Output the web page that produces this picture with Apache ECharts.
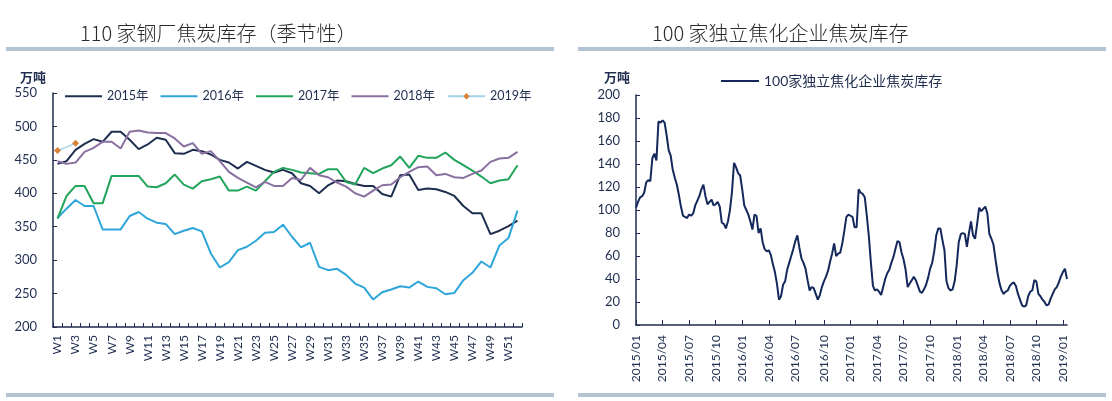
<!DOCTYPE html>
<html>
<head>
<meta charset="utf-8">
<script src="https://cdn.jsdelivr.net/npm/echarts@6/dist/echarts.min.js"></script>
<style>
html,body{margin:0;padding:0;background:#fff;}
#chart{width:1112px;height:401px;}
</style>
</head>
<body>
<div id="chart"></div>
<script>
// ---------- DATA ----------
const weeks = ['W1','W2','W3','W4','W5','W6','W7','W8','W9','W10','W11','W12','W13','W14','W15','W16','W17','W18','W19','W20','W21','W22','W23','W24','W25','W26','W27','W28','W29','W30','W31','W32','W33','W34','W35','W36','W37','W38','W39','W40','W41','W42','W43','W44','W45','W46','W47','W48','W49','W50','W51','W52'];
const seasonNames = ['2015年','2016年','2017年','2018年','2019年'];
const y2015 = [444,448,465,474,481,477,492,492,480,466,473,483,480,460,459,465,463,458,450,446,437,447,441,435,431,435,430,415,411,400,412,419,418,414,411,411,399,395,427,428,405,407,406,402,396,381,370,370,339,344,351,359];
const y2016 = [363,377,390,381,381,346,346,346,366,372,362,356,354,339,344,348,343,310,289,297,315,320,329,341,342,353,335,319,326,290,285,287,278,265,259,241,252,256,261,259,268,260,258,249,251,270,281,298,289,322,333,374];
const y2017 = [362,396,411,411,385,385,426,426,426,426,410,409,415,428,413,407,418,421,425,404,404,410,404,418,432,438,435,431,430,429,436,436,417,413,438,430,437,442,455,438,456,453,453,461,450,442,434,425,415,419,421,442];
const y2018 = [448,444,446,462,468,477,477,467,492,494,491,490,490,482,470,475,459,463,448,432,423,416,409,417,411,411,423,420,438,427,424,416,410,400,395,404,412,413,424,432,439,440,427,429,424,423,429,434,447,452,453,462];
const y2019 = [464,469,475];

const cokeName = '100家独立焦化企业焦炭库存';
const cokeStart = '2015-01-02';   // first weekly observation
const coke100 = [
 102,107,111,112,115,124,126,125,145,149,
 143,177,176,178,176,165,152,147,135,128,
 122,113,103,95,94,93,96,95,97,104,
 108,112,118,122,112,105,107,109,104,105,
 107,103,89,88,84,90,100,116,141,137,
 132,130,118,104,100,96,90,83,96,95,
 80,84,72,66,64,65,61,53,46,36,
 22,25,35,38,48,54,60,66,73,78,
 67,58,54,49,39,30,33,32,27,22,
 26,33,38,42,47,55,62,71,60,62,
 63,71,82,94,96,95,94,85,85,118,
 115,114,111,95,77,54,34,30,31,29,
 26,33,40,45,48,54,59,66,73,72,
 63,57,48,33,36,39,42,39,34,29,
 28,31,35,41,49,54,64,78,84,84,
 74,65,38,32,30,31,38,52,72,79,
 80,79,68,80,90,78,75,88,102,99,
 101,103,97,79,75,70,57,45,36,30,
 27,29,30,34,36,37,34,27,22,17,
 16,17,25,29,30,39,38,27,25,22,
 20,17,18,23,27,31,33,37,42,46,
 49,40
];
const quarterMonths = [1,4,7,10];

// weekly date categories
const cokeDates = [];
(function(){
  const p = cokeStart.split('-').map(Number);
  const t0 = Date.UTC(p[0], p[1]-1, p[2]);
  for (let i = 0; i < coke100.length; i++) {
    cokeDates.push(new Date(t0 + i*7*86400000).toISOString().slice(0,10));
  }
})();

// ---------- STYLE ----------
const FONT = 'Lato, "Noto Sans CJK SC", sans-serif';
const AX = '#1f2d4e';
const TXT = '#1f2d4e';
const BAR = '#b3c3d3';
const colors = ['#1f2e50','#2ea6da','#22a55b','#8a70a0','#a3d3e6'];
const LINE_ICON = 'path://M0 0H40V2H0Z';

const isQuarterStart = function(idx, val){
  const m = +val.slice(5,7), d = +val.slice(8,10);
  return quarterMonths.indexOf(m) >= 0 && d <= 7;
};

const chart = echarts.init(document.getElementById('chart'), null, {renderer:'canvas'});

const seasonData = [y2015,y2016,y2017,y2018];
const series = seasonData.map((arr, k) => ({
  name: seasonNames[k], type:'line', xAxisIndex:0, yAxisIndex:0,
  data: arr, symbol:'none', smooth:false,
  lineStyle:{color:colors[k], width:2}, itemStyle:{color:colors[k]}
}));
series.push({
  name: seasonNames[4], type:'line', xAxisIndex:0, yAxisIndex:0,
  data: y2019, symbol:'diamond', symbolSize:7,
  lineStyle:{color:colors[4], width:1.5}, itemStyle:{color:'#d9833a'}
});
series.push({
  name: cokeName, type:'line', xAxisIndex:1, yAxisIndex:1,
  data: coke100, symbol:'none',
  lineStyle:{color:'#14285c', width:2}, itemStyle:{color:'#14285c'}
});

const seasonLegend = seasonNames.map((n, k) => k < 4 ? {name:n, icon:LINE_ICON} : {name:n});

const option = {
  animation:false,
  backgroundColor:'#fff',
  textStyle:{fontFamily:FONT},
  grid:[
    {left:53, top:93, width:469, height:234},
    {left:636, top:95, width:431, height:230}
  ],
  xAxis:[
    {type:'category', gridIndex:0, data:weeks, boundaryGap:true,
     axisLine:{show:true, lineStyle:{color:AX, width:1.5}},
     axisTick:{show:true, inside:true, length:4, interval:0, lineStyle:{color:AX, width:1}},
     axisLabel:{interval:1, rotate:90, color:TXT, fontSize:12, margin:8, fontFamily:FONT},
     splitLine:{show:false}},
    {type:'category', gridIndex:1, data:cokeDates, boundaryGap:false,
     axisLine:{show:true, lineStyle:{color:AX, width:1.5}},
     axisTick:{show:true, inside:true, length:5, interval:isQuarterStart, lineStyle:{color:AX, width:1}},
     axisLabel:{interval:isQuarterStart, rotate:90, color:TXT, fontSize:12, margin:10, fontFamily:FONT,
       formatter:function(v){return v.slice(0,4)+'/'+v.slice(5,7);}},
     splitLine:{show:false}}
  ],
  yAxis:[
    {type:'value', gridIndex:0, min:200, max:550, interval:50,
     axisLine:{show:true, lineStyle:{color:AX, width:1.5}},
     axisTick:{show:true, inside:true, length:4, lineStyle:{color:AX}},
     axisLabel:{color:TXT, fontSize:13, margin:16, fontFamily:FONT},
     splitLine:{show:false}},
    {type:'value', gridIndex:1, min:0, max:200, interval:20,
     axisLine:{show:true, lineStyle:{color:AX, width:1.5}},
     axisTick:{show:true, inside:true, length:4, lineStyle:{color:AX}},
     axisLabel:{color:TXT, fontSize:13, margin:16, fontFamily:FONT},
     splitLine:{show:false}}
  ],
  legend:[
    {data:seasonLegend, left:65, top:90, padding:0, itemWidth:37, itemHeight:8, itemGap:12,
     textStyle:{color:TXT, fontSize:12.5, fontFamily:FONT}},
    {data:[{name:cokeName, icon:LINE_ICON}], left:721, top:74, padding:0, itemWidth:38, itemHeight:8,
     textStyle:{color:TXT, fontSize:14, fontFamily:FONT}}
  ],
  graphic:[
    {type:'text', x:80, y:33, style:{text:'110 家钢厂焦炭库存（季节性）', fill:'#2a2a2a', font:'300 20px "Noto Sans CJK SC", sans-serif', textVerticalAlign:'middle', verticalAlign:'middle'}},
    {type:'text', x:652, y:33, style:{text:'100 家独立焦化企业焦炭库存', fill:'#2a2a2a', font:'300 20px "Noto Sans CJK SC", sans-serif', textVerticalAlign:'middle', verticalAlign:'middle'}},
    {type:'rect', shape:{x:6, y:47, width:548, height:4}, style:{fill:BAR}},
    {type:'rect', shape:{x:578, y:47, width:528, height:4}, style:{fill:BAR}},
    {type:'rect', shape:{x:6, y:393, width:548, height:4}, style:{fill:BAR}},
    {type:'rect', shape:{x:578, y:393, width:528, height:4}, style:{fill:BAR}},
    {type:'text', x:20, y:77, style:{text:'万吨', fill:TXT, font:'bold 13px "Noto Sans CJK SC", sans-serif', textVerticalAlign:'middle', verticalAlign:'middle'}},
    {type:'text', x:604, y:77, style:{text:'万吨', fill:TXT, font:'bold 13px "Noto Sans CJK SC", sans-serif', textVerticalAlign:'middle', verticalAlign:'middle'}}
  ],
  series:series
};
chart.setOption(option);
</script>
</body>
</html>
